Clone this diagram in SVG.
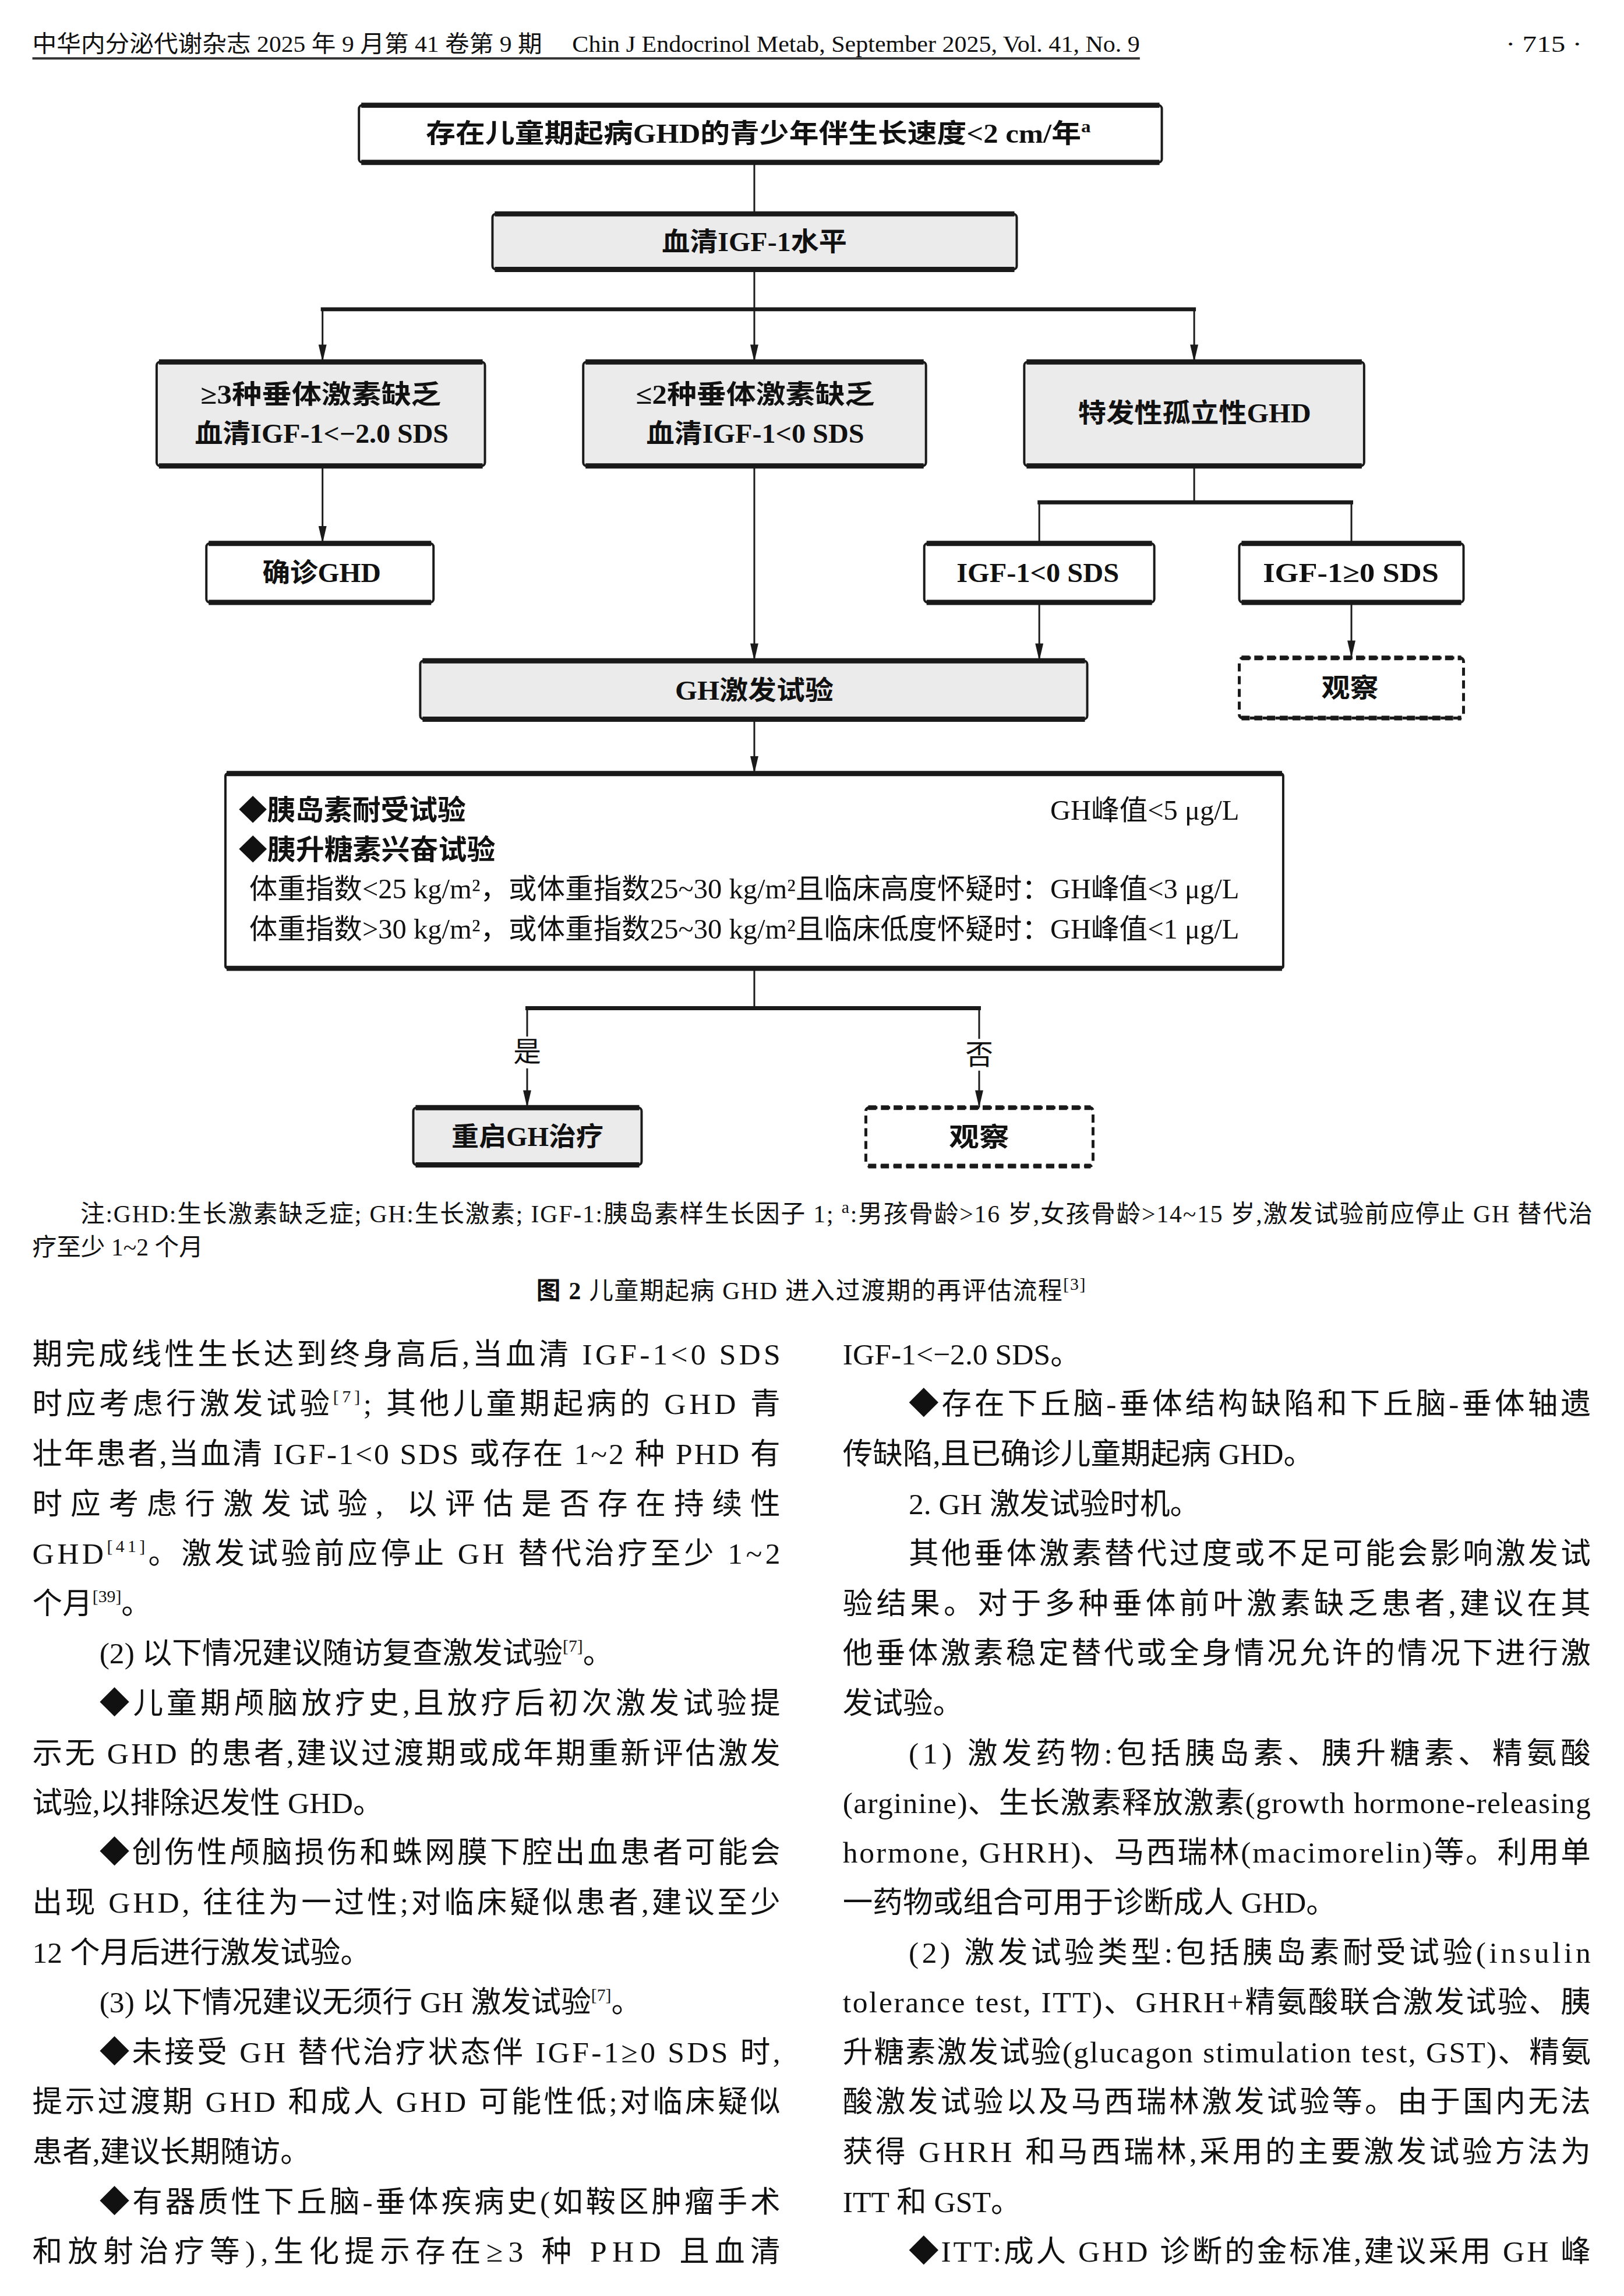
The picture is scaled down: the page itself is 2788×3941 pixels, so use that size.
<svg xmlns="http://www.w3.org/2000/svg" width="2788" height="3941" viewBox="0 0 2788 3941">
<style>
text{font-family:"Liberation Serif","Noto Sans CJK SC",serif;fill:#111}
.hd{font-size:40px}
.bx{font-size:46px;font-weight:bold}
.tx{font-size:48px}
.tb{font-weight:bold}
.nt{font-size:42px}
.bd{font-size:52px}
.sup{font-size:30px}
.box{stroke:#1a1a1a;stroke-width:4}
.gry{fill:#ebebeb}
.wht{fill:#fff}
.edge{stroke:#1a1a1a;stroke-width:9;fill:none}
.dash{fill:#fff;stroke:#1a1a1a;stroke-width:5;stroke-dasharray:14 8}
.dedge{stroke:#1a1a1a;stroke-width:8;fill:none;stroke-dasharray:14 8}
.ln{stroke:#1a1a1a;stroke-width:3;fill:none}
.br{stroke:#1a1a1a;stroke-width:7;fill:none}
.ar{stroke:#1a1a1a;stroke-width:3;fill:none;marker-end:url(#ah)}
</style>
<defs>
<marker id="ah" viewBox="0 0 30 14" refX="30" refY="7" markerWidth="30" markerHeight="14" orient="auto" markerUnits="userSpaceOnUse"><path d="M0,0 L30,7 L0,14 z" fill="#1a1a1a"/></marker>
</defs>
<rect width="2788" height="3941" fill="#fff"/>
<g id="page" transform="scale(0.99231)">

<g id="header">
<text class="hd" x="56" y="90" textLength="882" lengthAdjust="spacingAndGlyphs">中华内分泌代谢杂志 2025 年 9 月第 41 卷第 9 期</text>
<text class="hd" x="990" y="90" textLength="982" lengthAdjust="spacingAndGlyphs">Chin J Endocrinol Metab, September 2025, Vol. 41, No. 9</text>
<line x1="56" y1="101" x2="1972" y2="101" stroke="#333" stroke-width="4"/>
<text class="hd" x="2605" y="90" textLength="132" lengthAdjust="spacingAndGlyphs">· 715 ·</text>
</g>

<g id="connectors">
<path class="ln" d="M1305,281 V370"/>
<path class="ln" d="M1305,466 V535"/>
<path class="br" d="M555,535 H2069"/>
<path class="ar" d="M558,535 V626"/>
<path class="ar" d="M1305,535 V626"/>
<path class="ar" d="M2066,535 V626"/>
<path class="ar" d="M558,806 V940"/>
<path class="ar" d="M1305,806 V1143"/>
<path class="ln" d="M2066,806 V869"/>
<path class="br" d="M1795,869 H2341"/>
<path class="ln" d="M1798,869 V940"/>
<path class="ln" d="M2338,869 V940"/>
<path class="ar" d="M1798,1042 V1143"/>
<path class="ar" d="M2338,1042 V1138"/>
<path class="ar" d="M1305,1244 V1338"/>
<path class="ln" d="M1305,1675 V1744"/>
<path class="br" d="M909,1744 H1697"/>
<path class="ln" d="M912,1744 V1793"/>
<path class="ar" d="M912,1848 V1916"/>
<path class="ln" d="M1694,1744 V1797"/>
<path class="ar" d="M1694,1852 V1916"/>
<text class="tx" x="912" y="1836" text-anchor="middle">是</text>
<text class="tx" x="1694" y="1841" text-anchor="middle">否</text>
</g>

<g id="n1">
<rect class="box wht" x="621" y="182" width="1389" height="99" rx="6"/>
<path class="edge" d="M625,182 H2006 M625,281 H2006"/>
<text class="bx" x="737" y="247" textLength="1150" lengthAdjust="spacingAndGlyphs">存在儿童期起病GHD的青少年伴生长速度&lt;2 cm/年<tspan class="sup" dy="-18">a</tspan></text>
</g>

<g id="n2">
<rect class="box gry" x="852" y="370" width="907" height="96" rx="6"/>
<path class="edge" d="M856,370 H1755 M856,466 H1755"/>
<text class="bx" x="1145" y="434" textLength="320" lengthAdjust="spacingAndGlyphs">血清IGF-1水平</text>
</g>

<g id="n3a">
<rect class="box gry" x="271" y="626" width="568" height="180" rx="6"/>
<path class="edge" d="M275,626 H835 M275,806 H835"/>
<text class="bx" x="347" y="698" textLength="416" lengthAdjust="spacingAndGlyphs">≥3种垂体激素缺乏</text>
<text class="bx" x="337" y="766" textLength="439" lengthAdjust="spacingAndGlyphs">血清IGF-1&lt;−2.0 SDS</text>
</g>

<g id="n3b">
<rect class="box gry" x="1009" y="626" width="593" height="180" rx="6"/>
<path class="edge" d="M1013,626 H1598 M1013,806 H1598"/>
<text class="bx" x="1100" y="698" textLength="413" lengthAdjust="spacingAndGlyphs">≤2种垂体激素缺乏</text>
<text class="bx" x="1118" y="766" textLength="377" lengthAdjust="spacingAndGlyphs">血清IGF-1&lt;0 SDS</text>
</g>

<g id="n3c">
<rect class="box gry" x="1772" y="626" width="588" height="180" rx="6"/>
<path class="edge" d="M1776,626 H2356 M1776,806 H2356"/>
<text class="bx" x="1865" y="731" textLength="403" lengthAdjust="spacingAndGlyphs">特发性孤立性GHD</text>
</g>

<g id="n4">
<rect class="box wht" x="357" y="940" width="393" height="102" rx="6"/>
<path class="edge" d="M361,940 H746 M361,1042 H746"/>
<text class="bx" x="454" y="1007" textLength="205" lengthAdjust="spacingAndGlyphs">确诊GHD</text>
</g>

<g id="n5">
<rect class="box wht" x="1599" y="940" width="398" height="102" rx="6"/>
<path class="edge" d="M1603,940 H1993 M1603,1042 H1993"/>
<text class="bx" x="1655" y="1007" textLength="281" lengthAdjust="spacingAndGlyphs">IGF-1&lt;0 SDS</text>
</g>

<g id="n6">
<rect class="box wht" x="2144" y="940" width="388" height="102" rx="6"/>
<path class="edge" d="M2148,940 H2528 M2148,1042 H2528"/>
<text class="bx" x="2185" y="1007" textLength="304" lengthAdjust="spacingAndGlyphs">IGF-1≥0 SDS</text>
</g>

<g id="n7">
<rect class="box gry" x="727" y="1143" width="1154" height="101" rx="6"/>
<path class="edge" d="M731,1143 H1877 M731,1244 H1877"/>
<text class="bx" x="1168" y="1210" textLength="274" lengthAdjust="spacingAndGlyphs">GH激发试验</text>
</g>

<g id="n8">
<rect class="dash" x="2144" y="1138" width="388" height="104" rx="6"/>
<path class="dedge" d="M2148,1138 H2528 M2148,1242 H2528"/>
<text class="bx" x="2286" y="1206" textLength="99" lengthAdjust="spacingAndGlyphs">观察</text>
</g>

<g id="n9">
<rect class="box wht" x="390" y="1338" width="1830" height="337" rx="4"/>
<path class="edge" d="M392,1338 H2218 M392,1675 H2218"/>
<text class="tx tb" x="413" y="1418" textLength="393" lengthAdjust="spacingAndGlyphs">◆胰岛素耐受试验</text>
<text class="tx" x="1817" y="1418" textLength="327" lengthAdjust="spacingAndGlyphs">GH峰值&lt;5 μg/L</text>
<text class="tx tb" x="413" y="1486" textLength="444" lengthAdjust="spacingAndGlyphs">◆胰升糖素兴奋试验</text>
<text class="tx" x="431" y="1554" textLength="1713" lengthAdjust="spacingAndGlyphs">体重指数&lt;25 kg/m²，或体重指数25~30 kg/m²且临床高度怀疑时：GH峰值&lt;3 μg/L</text>
<text class="tx" x="431" y="1623" textLength="1713" lengthAdjust="spacingAndGlyphs">体重指数&gt;30 kg/m²，或体重指数25~30 kg/m²且临床低度怀疑时：GH峰值&lt;1 μg/L</text>
</g>

<g id="n10">
<rect class="box gry" x="715" y="1916" width="395" height="99" rx="6"/>
<path class="edge" d="M719,1916 H1106 M719,2015 H1106"/>
<text class="bx" x="781" y="1982" textLength="263" lengthAdjust="spacingAndGlyphs">重启GH治疗</text>
</g>

<g id="n11">
<rect class="dash" x="1498" y="1916" width="393" height="101" rx="6"/>
<path class="dedge" d="M1502,1916 H1887 M1502,2017 H1887"/>
<text class="bx" x="1642" y="1983" textLength="104" lengthAdjust="spacingAndGlyphs">观察</text>
</g>

<g id="notes">
<text class="nt" x="139" y="2114" textLength="2616" lengthAdjust="spacing">注:GHD:生长激素缺乏症; GH:生长激素; IGF-1:胰岛素样生长因子 1; <tspan class="sup" dy="-16">a</tspan><tspan dy="16">:男孩骨龄&gt;16 岁,女孩骨龄&gt;14~15 岁,激发试验前应停止 GH 替代治</tspan></text>
<text class="nt" x="56" y="2172">疗至少 1~2 个月</text>
<text class="nt" x="928" y="2247" textLength="950" lengthAdjust="spacing"><tspan font-weight="bold">图 2</tspan>  儿童期起病 GHD 进入过渡期的再评估流程<tspan class="sup" dy="-16">[3]</tspan></text>
</g>

<g id="body-left">
<text class="bd" x="56" y="2360" textLength="1294" lengthAdjust="spacing">期完成线性生长达到终身高后,当血清 IGF-1&lt;0 SDS</text>
<text class="bd" x="56" y="2446" textLength="1294" lengthAdjust="spacing">时应考虑行激发试验<tspan class="sup" dy="-20">[7]</tspan><tspan dy="20">; 其他儿童期起病的 GHD 青</tspan></text>
<text class="bd" x="56" y="2532" textLength="1294" lengthAdjust="spacing">壮年患者,当血清 IGF-1&lt;0 SDS 或存在 1~2 种 PHD 有</text>
<text class="bd" x="56" y="2619" textLength="1294" lengthAdjust="spacing">时应考虑行激发试验, 以评估是否存在持续性</text>
<text class="bd" x="56" y="2705" textLength="1294" lengthAdjust="spacing">GHD<tspan class="sup" dy="-20">[41]</tspan><tspan dy="20">。激发试验前应停止 GH 替代治疗至少 1~2</tspan></text>
<text class="bd" x="56" y="2791">个月<tspan class="sup" dy="-20">[39]</tspan><tspan dy="20">。</tspan></text>
<text class="bd" x="172" y="2877">(2) 以下情况建议随访复查激发试验<tspan class="sup" dy="-20">[7]</tspan><tspan dy="20">。</tspan></text>
<text class="bd" x="172" y="2964" textLength="1178" lengthAdjust="spacing">◆儿童期颅脑放疗史,且放疗后初次激发试验提</text>
<text class="bd" x="56" y="3050" textLength="1294" lengthAdjust="spacing">示无 GHD 的患者,建议过渡期或成年期重新评估激发</text>
<text class="bd" x="56" y="3136">试验,以排除迟发性 GHD。</text>
<text class="bd" x="172" y="3222" textLength="1178" lengthAdjust="spacing">◆创伤性颅脑损伤和蛛网膜下腔出血患者可能会</text>
<text class="bd" x="56" y="3308" textLength="1294" lengthAdjust="spacing">出现 GHD, 往往为一过性;对临床疑似患者,建议至少</text>
<text class="bd" x="56" y="3395">12 个月后进行激发试验。</text>
<text class="bd" x="172" y="3481">(3) 以下情况建议无须行 GH 激发试验<tspan class="sup" dy="-20">[7]</tspan><tspan dy="20">。</tspan></text>
<text class="bd" x="172" y="3567" textLength="1178" lengthAdjust="spacing">◆未接受 GH 替代治疗状态伴 IGF-1≥0 SDS 时,</text>
<text class="bd" x="56" y="3653" textLength="1294" lengthAdjust="spacing">提示过渡期 GHD 和成人 GHD 可能性低;对临床疑似</text>
<text class="bd" x="56" y="3740">患者,建议长期随访。</text>
<text class="bd" x="172" y="3826" textLength="1178" lengthAdjust="spacing">◆有器质性下丘脑-垂体疾病史(如鞍区肿瘤手术</text>
<text class="bd" x="56" y="3912" textLength="1294" lengthAdjust="spacing">和放射治疗等),生化提示存在≥3 种 PHD 且血清</text>
</g>

<g id="body-right">
<text class="bd" x="1458" y="2360">IGF-1&lt;−2.0 SDS。</text>
<text class="bd" x="1572" y="2446" textLength="1180" lengthAdjust="spacing">◆存在下丘脑-垂体结构缺陷和下丘脑-垂体轴遗</text>
<text class="bd" x="1458" y="2532">传缺陷,且已确诊儿童期起病 GHD。</text>
<text class="bd" x="1572" y="2619">2. GH 激发试验时机。</text>
<text class="bd" x="1572" y="2705" textLength="1180" lengthAdjust="spacing">其他垂体激素替代过度或不足可能会影响激发试</text>
<text class="bd" x="1458" y="2791" textLength="1294" lengthAdjust="spacing">验结果。对于多种垂体前叶激素缺乏患者,建议在其</text>
<text class="bd" x="1458" y="2877" textLength="1294" lengthAdjust="spacing">他垂体激素稳定替代或全身情况允许的情况下进行激</text>
<text class="bd" x="1458" y="2964">发试验。</text>
<text class="bd" x="1572" y="3050" textLength="1180" lengthAdjust="spacing">(1) 激发药物:包括胰岛素、胰升糖素、精氨酸</text>
<text class="bd" x="1458" y="3136" textLength="1294" lengthAdjust="spacing">(arginine)、生长激素释放激素(growth hormone-releasing</text>
<text class="bd" x="1458" y="3222" textLength="1294" lengthAdjust="spacing">hormone, GHRH)、马西瑞林(macimorelin)等。利用单</text>
<text class="bd" x="1458" y="3308">一药物或组合可用于诊断成人 GHD。</text>
<text class="bd" x="1572" y="3395" textLength="1180" lengthAdjust="spacing">(2) 激发试验类型:包括胰岛素耐受试验(insulin</text>
<text class="bd" x="1458" y="3481" textLength="1294" lengthAdjust="spacing">tolerance test, ITT)、GHRH+精氨酸联合激发试验、胰</text>
<text class="bd" x="1458" y="3567" textLength="1294" lengthAdjust="spacing">升糖素激发试验(glucagon stimulation test, GST)、精氨</text>
<text class="bd" x="1458" y="3653" textLength="1294" lengthAdjust="spacing">酸激发试验以及马西瑞林激发试验等。由于国内无法</text>
<text class="bd" x="1458" y="3740" textLength="1294" lengthAdjust="spacing">获得 GHRH 和马西瑞林,采用的主要激发试验方法为</text>
<text class="bd" x="1458" y="3826">ITT 和 GST。</text>
<text class="bd" x="1572" y="3912" textLength="1180" lengthAdjust="spacing">◆ITT:成人 GHD 诊断的金标准,建议采用 GH 峰</text>
</g>
</g>
</svg>
